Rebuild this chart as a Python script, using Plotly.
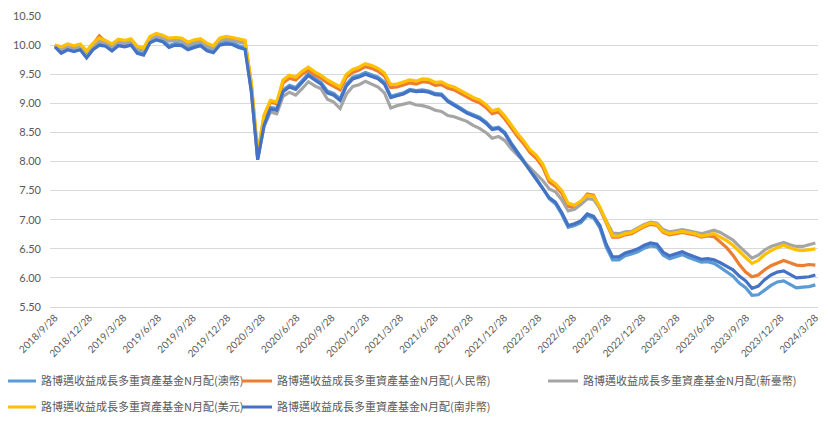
import pandas as pd
import plotly.graph_objects as go

start_date = "2018-09-28"
end_date = "2024-03-28"

names = [
    "路博邁收益成長多重資產基金N月配(澳幣)",
    "路博邁收益成長多重資產基金N月配(人民幣)",
    "路博邁收益成長多重資產基金N月配(新臺幣)",
    "路博邁收益成長多重資產基金N月配(美元)",
    "路博邁收益成長多重資產基金N月配(南非幣)",
]

aud = [10.00, 9.89, 9.95, 9.92, 9.95, 9.81, 9.95, 10.03, 10.01, 9.93,
       10.02, 10.00, 10.03, 9.89, 9.86, 10.07, 10.12, 10.09, 9.99, 10.03,
       10.02, 9.95, 9.99, 10.02, 9.93, 9.90, 10.03, 10.05, 10.04, 9.99,
       9.96, 9.24, 8.06, 8.66, 8.93, 8.91, 9.23, 9.31, 9.27, 9.39,
       9.51, 9.43, 9.36, 9.21, 9.17, 9.08, 9.33, 9.45, 9.48, 9.53,
       9.49, 9.45, 9.36, 9.12, 9.15, 9.18, 9.24, 9.22, 9.23, 9.21,
       9.17, 9.16, 9.05, 8.99, 8.92, 8.85, 8.80, 8.76, 8.68, 8.57,
       8.59, 8.50, 8.32, 8.17, 8.02, 7.86, 7.70, 7.54, 7.36, 7.27,
       7.09, 6.87, 6.90, 6.95, 7.07, 7.03, 6.86, 6.53, 6.31, 6.31,
       6.38, 6.41, 6.45, 6.51, 6.55, 6.53, 6.39, 6.33, 6.37, 6.40,
       6.35, 6.31, 6.27, 6.28, 6.25, 6.18, 6.10, 6.03, 5.91, 5.83,
       5.70, 5.71, 5.79, 5.87, 5.93, 5.95, 5.89, 5.83, 5.84, 5.85,
       5.88]

rmb = [10.00, 9.95, 10.00, 9.97, 10.00, 9.88, 10.01, 10.16, 10.06, 10.00,
       10.08, 10.06, 10.09, 9.96, 9.93, 10.13, 10.18, 10.15, 10.10, 10.11,
       10.10, 10.03, 10.07, 10.09, 10.01, 9.97, 10.10, 10.13, 10.11, 10.08,
       10.06, 9.32, 8.12, 8.77, 9.02, 8.99, 9.35, 9.43, 9.40, 9.50,
       9.57, 9.49, 9.43, 9.35, 9.29, 9.23, 9.45, 9.53, 9.57, 9.63,
       9.60, 9.55, 9.47, 9.27, 9.28, 9.31, 9.35, 9.33, 9.37, 9.36,
       9.31, 9.32, 9.26, 9.23, 9.17, 9.11, 9.05, 9.01, 8.93, 8.82,
       8.85, 8.73, 8.57, 8.43, 8.30, 8.15, 8.05, 7.90, 7.65, 7.57,
       7.45, 7.23, 7.20, 7.30, 7.44, 7.42, 7.19, 6.96, 6.70, 6.70,
       6.74, 6.76, 6.82, 6.88, 6.92, 6.90, 6.78, 6.74, 6.76, 6.78,
       6.76, 6.74, 6.70, 6.72, 6.71, 6.62, 6.52, 6.39, 6.23, 6.10,
       6.02, 6.05, 6.14, 6.21, 6.26, 6.30, 6.26, 6.22, 6.21, 6.23,
       6.22]

twd = [9.99, 9.92, 9.97, 9.94, 9.97, 9.85, 9.98, 10.07, 10.03, 9.97,
       10.05, 10.03, 10.06, 9.93, 9.90, 10.10, 10.15, 10.12, 10.07, 10.08,
       10.07, 10.00, 10.04, 10.06, 9.98, 9.94, 10.07, 10.10, 10.08, 10.05,
       10.03, 9.20, 8.05, 8.60, 8.85, 8.82, 9.12, 9.19, 9.14, 9.25,
       9.37, 9.30, 9.25, 9.07, 9.02, 8.91, 9.16, 9.29, 9.32, 9.38,
       9.33, 9.28, 9.18, 8.92, 8.96, 8.98, 9.01, 8.97, 8.96, 8.93,
       8.88, 8.86, 8.79, 8.77, 8.73, 8.69, 8.62, 8.57, 8.50, 8.40,
       8.43, 8.36, 8.22, 8.11, 8.00, 7.88, 7.77, 7.67, 7.53, 7.48,
       7.34, 7.15, 7.18, 7.26, 7.36, 7.35, 7.19, 6.98, 6.77, 6.76,
       6.79, 6.80, 6.86, 6.92, 6.96, 6.94, 6.83, 6.79, 6.81, 6.83,
       6.81, 6.79, 6.76, 6.79, 6.82, 6.78, 6.72, 6.65, 6.54, 6.44,
       6.34, 6.39, 6.48, 6.54, 6.58, 6.61, 6.57, 6.54, 6.54, 6.57,
       6.60]

usd = [10.00, 9.97, 10.02, 9.99, 10.02, 9.90, 10.03, 10.12, 10.08, 10.02,
       10.10, 10.08, 10.11, 9.98, 9.95, 10.15, 10.20, 10.17, 10.12, 10.13,
       10.12, 10.05, 10.09, 10.11, 10.03, 9.99, 10.12, 10.15, 10.13, 10.10,
       10.08, 9.35, 8.15, 8.80, 9.05, 9.02, 9.40, 9.48, 9.45, 9.55,
       9.62, 9.54, 9.48, 9.40, 9.34, 9.28, 9.50, 9.58, 9.62, 9.68,
       9.65, 9.60, 9.52, 9.32, 9.33, 9.36, 9.40, 9.38, 9.42, 9.41,
       9.36, 9.37, 9.31, 9.28, 9.22, 9.16, 9.10, 9.06, 8.98, 8.87,
       8.90, 8.78, 8.62, 8.48, 8.35, 8.20, 8.10, 7.95, 7.70, 7.62,
       7.50, 7.28, 7.25, 7.32, 7.42, 7.40, 7.22, 6.98, 6.72, 6.72,
       6.76, 6.78, 6.84, 6.90, 6.94, 6.92, 6.80, 6.76, 6.78, 6.80,
       6.78, 6.76, 6.72, 6.74, 6.76, 6.70, 6.64, 6.56, 6.45, 6.35,
       6.25, 6.30, 6.40, 6.47, 6.52, 6.56, 6.52, 6.48, 6.47, 6.49,
       6.50]

zar = [9.97, 9.86, 9.92, 9.89, 9.92, 9.78, 9.92, 10.00, 9.98, 9.90,
       9.99, 9.97, 10.00, 9.86, 9.83, 10.04, 10.09, 10.06, 9.96, 10.00,
       9.99, 9.92, 9.96, 9.99, 9.90, 9.87, 10.00, 10.02, 10.01, 9.96,
       9.93, 9.20, 8.03, 8.62, 8.90, 8.88, 9.20, 9.28, 9.24, 9.36,
       9.48, 9.40, 9.33, 9.18, 9.14, 9.05, 9.30, 9.42, 9.45, 9.50,
       9.46, 9.42, 9.33, 9.10, 9.13, 9.16, 9.22, 9.20, 9.21, 9.19,
       9.15, 9.14, 9.03, 8.97, 8.90, 8.83, 8.78, 8.74, 8.66, 8.55,
       8.57, 8.48, 8.30, 8.15, 8.00, 7.85, 7.70, 7.55, 7.38, 7.30,
       7.12, 6.90, 6.93, 6.98, 7.10, 7.06, 6.90, 6.58, 6.36, 6.36,
       6.43, 6.46, 6.50, 6.56, 6.60, 6.58, 6.44, 6.38, 6.42, 6.45,
       6.40, 6.36, 6.32, 6.33, 6.31, 6.26, 6.20, 6.14, 6.03, 5.95,
       5.82, 5.86, 5.97, 6.05, 6.10, 6.12, 6.06, 6.00, 6.01, 6.02,
       6.05]

tick_dates = ["2018-09-28", "2018-12-28", "2019-03-28", "2019-06-28", "2019-09-28",
              "2019-12-28", "2020-03-28", "2020-06-28", "2020-09-28", "2020-12-28",
              "2021-03-28", "2021-06-28", "2021-09-28", "2021-12-28", "2022-03-28",
              "2022-06-28", "2022-09-28", "2022-12-28", "2023-03-28", "2023-06-28",
              "2023-09-28", "2023-12-28", "2024-03-28"]
tick_labels = ["2018/9/28", "2018/12/28", "2019/3/28", "2019/6/28", "2019/9/28",
               "2019/12/28", "2020/3/28", "2020/6/28", "2020/9/28", "2020/12/28",
               "2021/3/28", "2021/6/28", "2021/9/28", "2021/12/28", "2022/3/28",
               "2022/6/28", "2022/9/28", "2022/12/28", "2023/3/28", "2023/6/28",
               "2023/9/28", "2023/12/28", "2024/3/28"]

colors = ["#5B9BD5", "#ED7D31", "#A5A5A5", "#FFC000", "#4472C4"]
series = [aud, rmb, twd, usd, zar]
legend_ids = ["legend", "legend2", "legend3", "legend4", "legend5"]

fig = go.Figure()
for name, vals, col, lg in zip(names, series, colors, legend_ids):
    dates = pd.date_range(start_date, end_date, periods=len(vals))
    fig.add_trace(go.Scatter(x=dates, y=vals, mode="lines", name=name,
                             line=dict(color=col, width=3.2), legend=lg))

# the page body has an 8px default margin; lay out in page pixels
OFF = 8
W, H = 828 - OFF, 426 - OFF
plot_left, plot_right, plot_top, plot_bottom = 50, 818, 16, 307
L = plot_left - OFF
R = W - (plot_right - OFF)
T = plot_top - OFF
B = H - (plot_bottom - OFF)
pw, ph = plot_right - plot_left, plot_bottom - plot_top


def px_to_paper(xp, yp):
    return (xp - plot_left) / pw, (plot_bottom - yp) / ph


legend_font = dict(family="Noto Sans CJK TC, sans-serif", size=11, color="#595959")
legend_pos = [(1, 381), (237, 381), (543, 381), (1, 407), (237, 407)]
layout_legends = {}
for lg, (xp, yp) in zip(legend_ids, legend_pos):
    lx, ly = px_to_paper(xp, yp)
    layout_legends[lg] = dict(x=lx, y=ly, xanchor="left", yanchor="middle",
                              bgcolor="rgba(0,0,0,0)", font=legend_font,
                              itemwidth=30, tracegroupgap=0)

fig.update_layout(
    width=W, height=H,
    margin=dict(l=L, r=R, t=T, b=B, pad=0, autoexpand=False),
    paper_bgcolor="white", plot_bgcolor="white",
    showlegend=True,
    **layout_legends,
)
fig.update_xaxes(
    type="date",
    range=["2018-09-15", "2024-04-04"],
    tickmode="array", tickvals=tick_dates, ticktext=tick_labels,
    tickangle=-45,
    tickfont=dict(family="Lato, sans-serif", size=10, color="#595959"),
    showgrid=False, zeroline=False,
    showline=True, linecolor="#D9D9D9", linewidth=1,
    ticks="", automargin=False,
)
fig.update_yaxes(
    range=[5.5, 10.5], dtick=0.5, tick0=5.5, tickformat=".2f",
    tickfont=dict(family="Lato, sans-serif", size=11, color="#595959"),
    showgrid=True, gridcolor="#D9D9D9", gridwidth=1,
    zeroline=False, showline=False, ticks="", ticklabelstandoff=8,
    automargin=False,
)

fig.write_html("out.html")
